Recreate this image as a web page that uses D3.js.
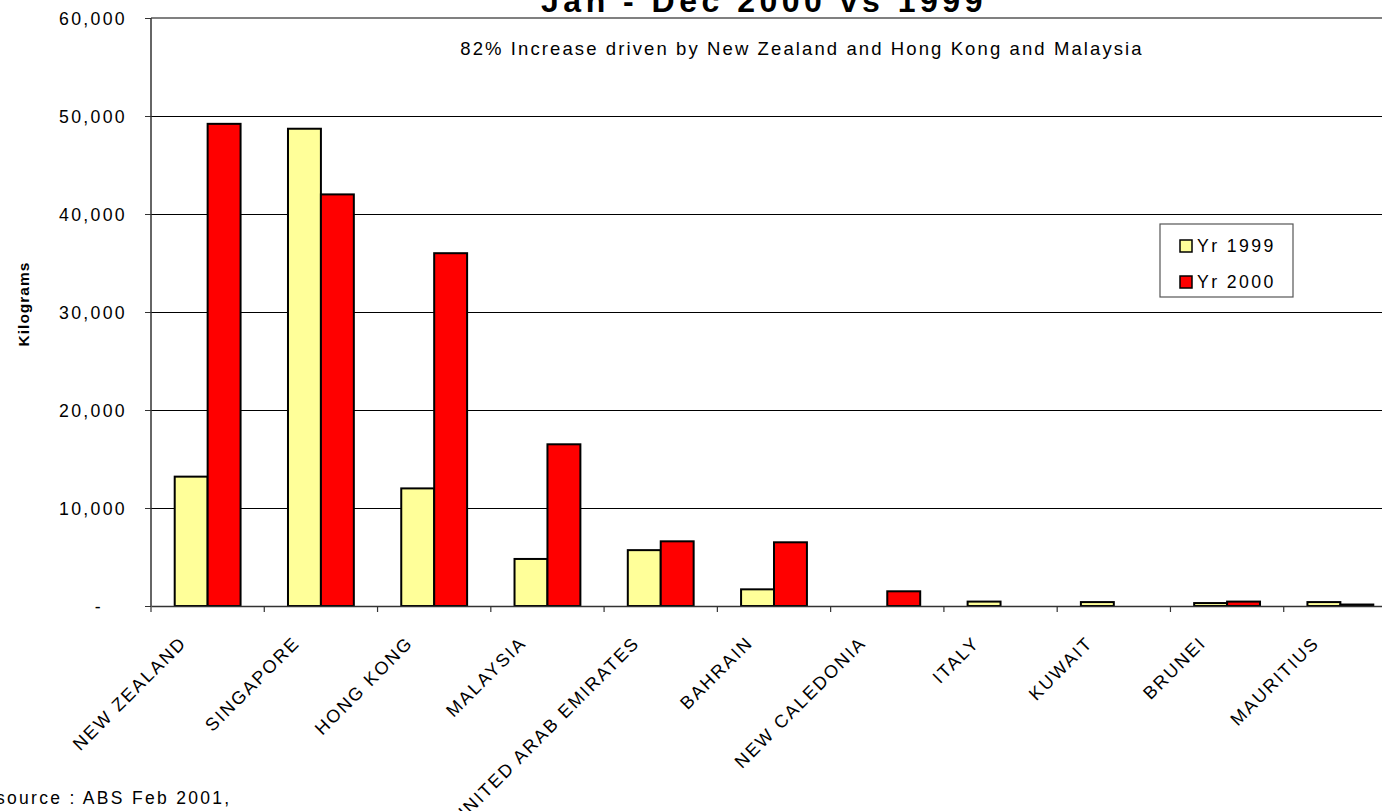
<!DOCTYPE html>
<html>
<head>
<meta charset="utf-8">
<script src="https://cdn.jsdelivr.net/npm/d3@7"></script>
<style>
  html, body { margin: 0; padding: 0; background: #fff; overflow: hidden; }
  svg { display: block; font-family: "Liberation Sans", Arial, sans-serif; }
</style>
</head>
<body>
<svg id="chart" width="1382" height="811"></svg>
<script>
// ---- data ----
const categories = ["NEW ZEALAND", "SINGAPORE", "HONG KONG", "MALAYSIA", "UNITED ARAB EMIRATES",
  "BAHRAIN", "NEW CALEDONIA", "ITALY", "KUWAIT", "BRUNEI", "MAURITIUS"];
const seriesNames = ["Yr 1999", "Yr 2000"];
const values1999 = [13200, 48700, 12000, 4800, 5700, 1700, 0, 450, 400, 300, 400];
const values2000 = [49200, 42000, 36000, 16500, 6600, 6500, 1500, 0, 0, 450, 150];
const yTicks = [0, 10000, 20000, 30000, 40000, 50000, 60000];
const seriesColors = ["#FFFF99", "#FF0000"];
const titleText = "Jan - Dec 2000 vs 1999";
const subtitleText = "82% Increase driven by New Zealand and Hong Kong and Malaysia";
const yAxisTitle = "Kilograms";
const sourceText = "source : ABS Feb 2001,";

// ---- layout ----
const svg = d3.select("#chart");
const plot = { left: 151, right: 1397, top: 18, bottom: 606 };

const x0 = d3.scaleBand().domain(categories).range([plot.left, plot.right]).padding(0);
const x1 = d3.scaleBand().domain(seriesNames).range([0, x0.bandwidth()]).paddingInner(0).paddingOuter(0.72);
const y = d3.scaleLinear().domain([0, 60000]).range([plot.bottom, plot.top]);

const fmt = v => v === 0 ? "-" : d3.format(",")(v);

// gridlines
svg.append("g").selectAll("line")
  .data(yTicks.filter(t => t > 0 && t < 60000))
  .join("line")
  .attr("x1", plot.left).attr("x2", plot.right)
  .attr("y1", d => y(d)).attr("y2", d => y(d))
  .attr("stroke", "#000").attr("stroke-width", 1).attr("shape-rendering", "crispEdges");

// top border
svg.append("line")
  .attr("x1", plot.left).attr("x2", plot.right)
  .attr("y1", y(60000)).attr("y2", y(60000))
  .attr("stroke", "#808080").attr("stroke-width", 2);

// bars
const data = categories.map((c, i) => ({ cat: c, vals: [values1999[i], values2000[i]] }));
const groups = svg.append("g").selectAll("g")
  .data(data).join("g")
  .attr("transform", d => `translate(${x0(d.cat)},0)`);
groups.selectAll("rect")
  .data(d => d.vals.map((v, j) => ({ name: seriesNames[j], v, j })).filter(e => e.v > 0))
  .join("rect")
  .attr("x", e => x1(e.name))
  .attr("width", x1.bandwidth())
  .attr("y", e => y(e.v))
  .attr("height", e => y(0) - y(e.v))
  .attr("fill", e => seriesColors[e.j])
  .attr("stroke", "#000").attr("stroke-width", 2);

// y axis
const yAxis = d3.axisLeft(y).tickValues(yTicks).tickFormat(fmt).tickSize(6).tickPadding(18);
const yg = svg.append("g").attr("transform", `translate(${plot.left},0)`).call(yAxis);
yg.select(".domain").attr("stroke", "#333").attr("stroke-width", 1.5).attr("d", `M0,${plot.top}V${plot.bottom}`);
yg.selectAll(".tick line").attr("stroke", "#333");
yg.selectAll(".tick text")
  .attr("font-size", 17.7).attr("letter-spacing", "2.3px").attr("fill", "#000")
  .attr("font-family", "Liberation Sans, Arial, sans-serif")
  .attr("dy", "0.36em")
  .attr("dx", d => d === 0 ? -24 : 0);

// x axis
const xAxis = d3.axisBottom(x0).tickSize(0).tickFormat("");
const xg = svg.append("g").attr("transform", `translate(0,${plot.bottom})`).call(xAxis);
xg.select(".domain").attr("stroke", "#333").attr("stroke-width", 1.5);
// boundary ticks
const bounds = categories.map(c => x0(c)).concat([plot.right]);
xg.selectAll(".bt").data(bounds).join("line")
  .attr("x1", d => d).attr("x2", d => d).attr("y1", 0).attr("y2", 6)
  .attr("stroke", "#333").attr("stroke-width", 1.2);

// x labels
svg.append("g").selectAll("text")
  .data(categories).join("text")
  .attr("transform", d => `translate(${x0(d) + x0.bandwidth() / 2 - 20},${plot.bottom + 38}) rotate(-45)`)
  .attr("text-anchor", "end")
  .attr("font-size", 18).attr("letter-spacing", "2px")
  .attr("fill", "#000")
  .text(d => d);

// title
svg.append("text")
  .attr("x", 764).attr("y", 12)
  .attr("text-anchor", "middle")
  .attr("font-size", 32).attr("font-weight", "bold").attr("letter-spacing", "4.5px")
  .text(titleText);

// subtitle
svg.append("text")
  .attr("x", 802).attr("y", 55)
  .attr("text-anchor", "middle")
  .attr("font-size", 18.5).attr("letter-spacing", "2.1px")
  .text(subtitleText);

// y axis title
svg.append("text")
  .attr("transform", "translate(29,304) rotate(-90)")
  .attr("text-anchor", "middle")
  .attr("font-size", 15.5).attr("font-weight", "bold").attr("letter-spacing", "1px")
  .text(yAxisTitle);

// source
svg.append("text")
  .attr("x", -4).attr("y", 804)
  .attr("font-size", 17.5).attr("letter-spacing", "2.3px")
  .text(sourceText);

// legend
const lg = svg.append("g").attr("transform", "translate(1160,224)");
lg.append("rect").attr("width", 133).attr("height", 73)
  .attr("fill", "#fff").attr("stroke", "#555").attr("stroke-width", 1.2);
seriesNames.forEach((s, i) => {
  const yy = 16 + i * 36;
  lg.append("rect").attr("x", 20).attr("y", yy).attr("width", 12).attr("height", 12)
    .attr("fill", seriesColors[i]).attr("stroke", "#000").attr("stroke-width", 1.5);
  lg.append("text").attr("x", 37).attr("y", yy + 12)
    .attr("font-size", 17.7).attr("letter-spacing", "2.4px").text(s);
});
</script>
</body>
</html>
